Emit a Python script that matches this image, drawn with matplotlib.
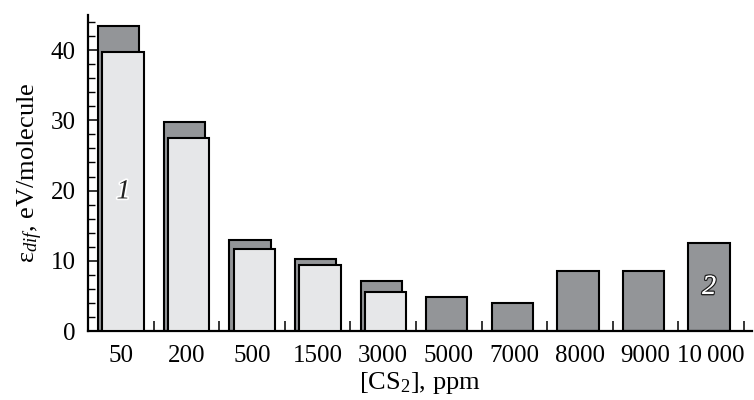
import numpy as np
import matplotlib
matplotlib.use('Agg')
import matplotlib.pyplot as plt
import matplotlib.patheffects as path_effects
from matplotlib.ticker import MultipleLocator

plt.rcParams['font.family'] = ['Liberation Serif', 'DejaVu Serif']
plt.rcParams['mathtext.fontset'] = 'custom'
plt.rcParams['mathtext.rm'] = 'Liberation Serif'
plt.rcParams['mathtext.it'] = 'Liberation Serif:italic'

# data
categories = ['50', '200', '500', '1500', '3000', '5000', '7000', '8000', '9000', '10\u2009000']
series2 = [43.5, 29.7, 12.9, 10.2, 7.1, 4.8, 4.0, 8.5, 8.6, 12.6]   # dark bars
series1 = [39.8, 27.5, 11.7, 9.4, 5.6]                              # light bars (first 5)

dark = '#939598'
light = '#e6e7e9'

fig = plt.figure(figsize=(7.54, 4.0), dpi=100)
ax = fig.add_axes([0.1167, 0.1725, 0.8803, 0.79])

x2 = np.arange(len(series2))
x1 = np.arange(len(series1))
w = 0.63
ax.bar(x2 - 0.03, series2, width=w, color=dark, edgecolor='black', linewidth=1.5, zorder=2)
ax.bar(x1 + 0.035, series1, width=w, color=light, edgecolor='black', linewidth=1.5, zorder=3)

ax.set_xlim(-0.5, 9.62)
ax.set_ylim(0, 45)

ax.set_xticks(x2)
ax.set_xticklabels(categories)
ax.xaxis.set_minor_locator(MultipleLocator(1, offset=0.5))
ax.tick_params(axis='x', which='major', length=0, pad=10, labelsize=18)
ax.tick_params(axis='x', which='minor', direction='in', length=7, width=1.1)

ax.yaxis.set_major_locator(MultipleLocator(10))
ax.yaxis.set_minor_locator(MultipleLocator(2))
ax.tick_params(axis='y', which='major', direction='in', length=9, width=1.1, pad=9, labelsize=18)
ax.tick_params(axis='y', which='minor', direction='in', length=5, width=1.0)

for s in ['top', 'right']:
    ax.spines[s].set_visible(False)
for s in ['left', 'bottom']:
    ax.spines[s].set_linewidth(1.6)

ax.set_xlabel('[CS$_2$], ppm', fontsize=19, labelpad=2)
ax.set_ylabel('\u03b5$_{dif}$, eV/molecule', fontsize=19, labelpad=4)

t1 = ax.text(0.04, 19.8, '1', fontsize=20, style='italic', ha='center', va='center',
             color='#222222', zorder=5)
t1.set_path_effects([path_effects.withStroke(linewidth=2.5, foreground='white')])
t2 = ax.text(8.97, 6.2, '2', fontsize=20, style='italic', ha='center', va='center',
             color='white', zorder=5)
t2.set_path_effects([path_effects.withStroke(linewidth=2.0, foreground='#222222'),
                     path_effects.Normal()])

fig.savefig('out.png', dpi=100)
